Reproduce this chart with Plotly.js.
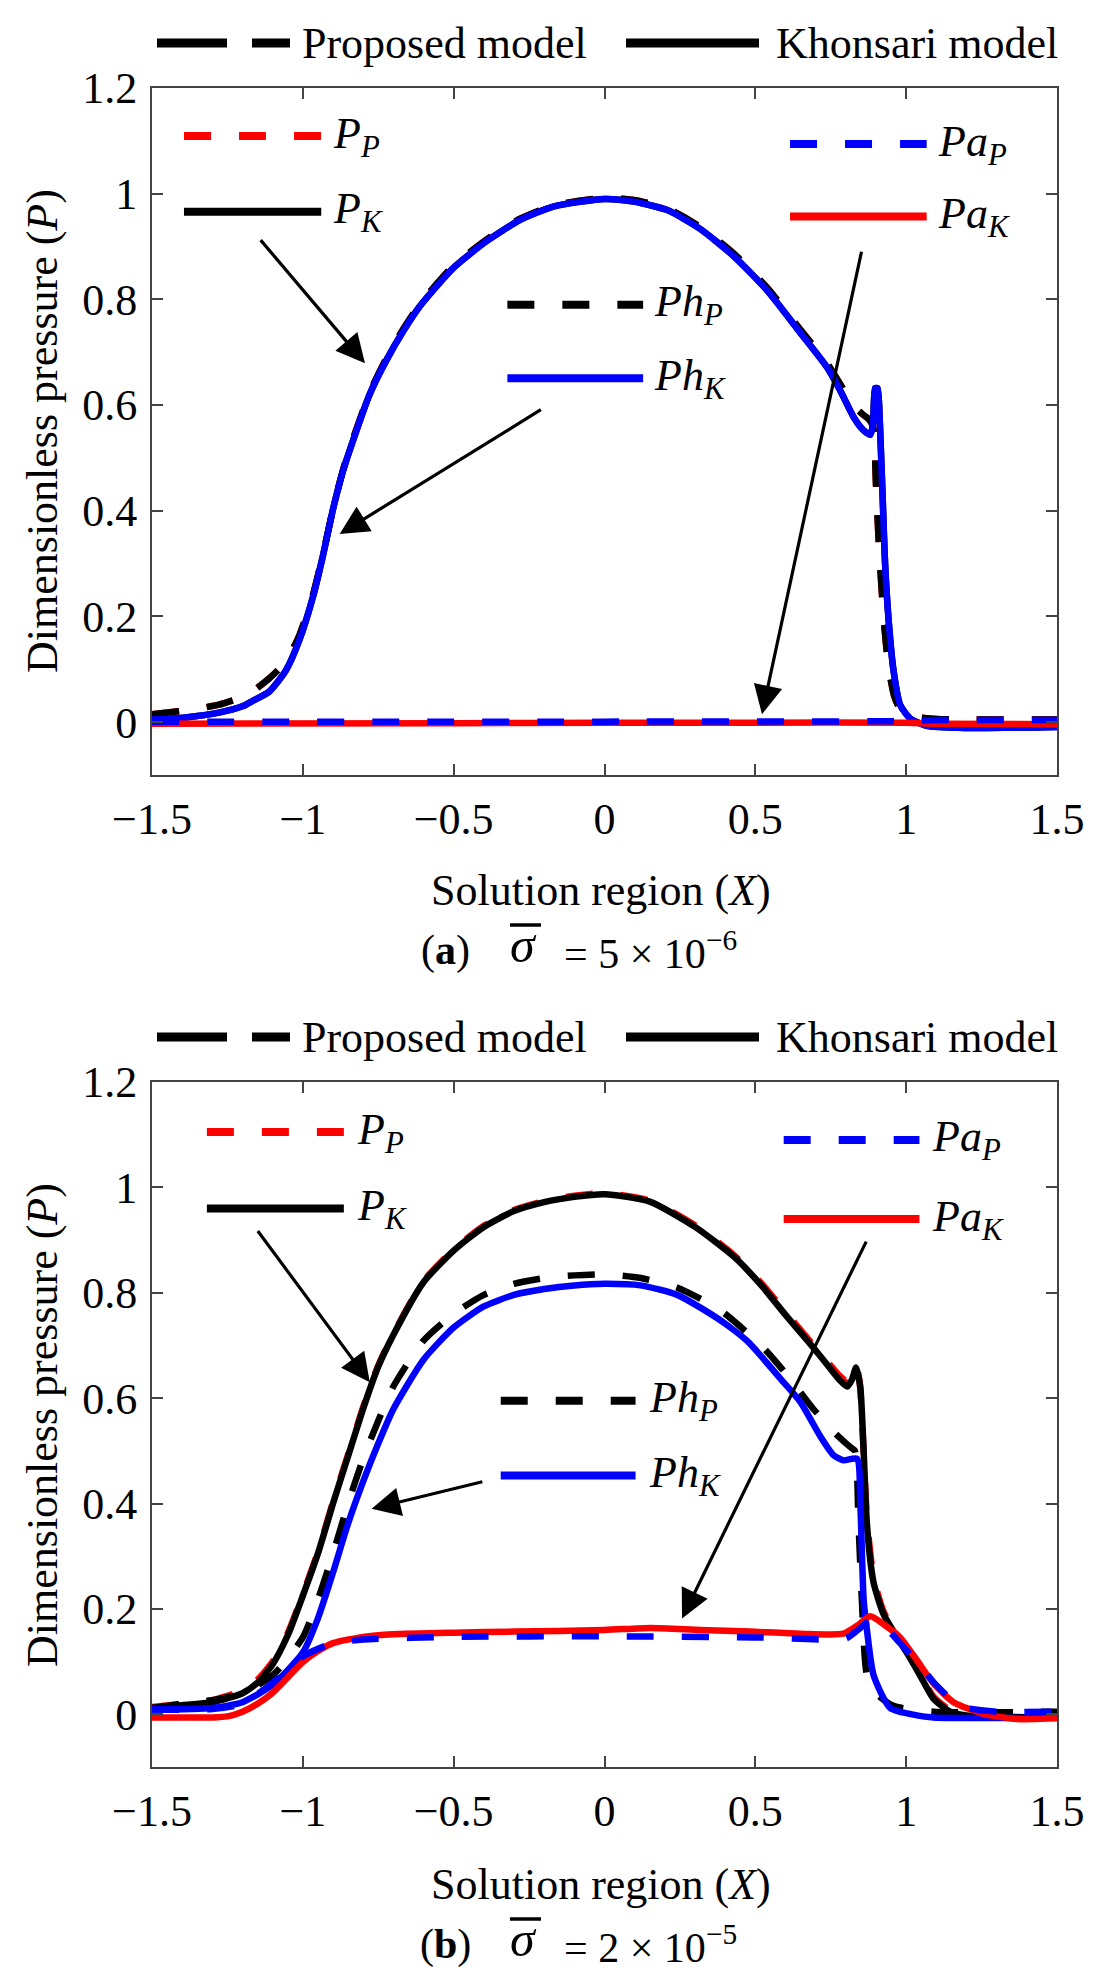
<!DOCTYPE html>
<html>
<head>
<meta charset="utf-8">
<script src="https://cdn.plot.ly/plotly-3.0.1.min.js"></script>
<style>body{margin:0;background:#fff}</style>
</head>
<body>
<div id="chart" style="width:1096px;height:1982px"></div>
<script>
// ---- (a) sigma = 5e-6 ----
const phKAx = [-1.5, -1.389, -1.278, -1.2, -1.167, -1.111, -1.056, -1.011, -0.967, -0.933, -0.9, -0.867, -0.833, -0.778, -0.722, -0.667, -0.611, -0.5, -0.389, -0.278, -0.167, 0, 0.097, 0.208, 0.318, 0.428, 0.539, 0.649, 0.737, 0.781, 0.826, 0.859, 0.881, 0.89, 0.897, 0.905, 0.912, 0.916, 0.923, 0.93, 0.942, 0.958, 0.98, 1.013, 1.068, 1.2, 1.5];
const phKAy = [0.005, 0.009, 0.018, 0.03, 0.04, 0.058, 0.098, 0.156, 0.236, 0.316, 0.403, 0.475, 0.534, 0.621, 0.686, 0.74, 0.788, 0.86, 0.911, 0.951, 0.976, 0.99, 0.985, 0.969, 0.933, 0.882, 0.817, 0.737, 0.672, 0.628, 0.577, 0.552, 0.544, 0.563, 0.632, 0.632, 0.577, 0.519, 0.41, 0.301, 0.192, 0.098, 0.033, 0.007, -0.007, -0.011, -0.009];
const phPAx = [-1.5, -1.389, -1.278, -1.2, -1.167, -1.111, -1.056, -1.011, -0.967, -0.933, -0.9, -0.867, -0.833, -0.778, -0.722, -0.667, -0.611, -0.5, -0.389, -0.278, -0.167, 0, 0.097, 0.208, 0.318, 0.428, 0.539, 0.649, 0.737, 0.781, 0.826, 0.859, 0.875, 0.89, 0.9, 0.91, 0.925, 0.94, 0.96, 0.98, 1.024, 1.1, 1.5];
const phPAy = [0.015, 0.022, 0.033, 0.048, 0.058, 0.083, 0.115, 0.165, 0.24, 0.318, 0.403, 0.477, 0.537, 0.624, 0.69, 0.744, 0.792, 0.864, 0.914, 0.953, 0.978, 0.992, 0.988, 0.972, 0.937, 0.887, 0.822, 0.743, 0.68, 0.64, 0.599, 0.581, 0.574, 0.56, 0.45, 0.33, 0.2, 0.11, 0.05, 0.025, 0.011, 0.006, 0.005];
// total pressure sits under the hydrodynamic curves in (a)
const pKAx = phKAx;
const pKAy = phKAy;
const pPAx = phPAx;
const pPAy = phPAy;
const paKAx = [-1.5, -0.5, 0, 0.5, 1.0, 1.1, 1.5];
const paKAy = [-0.003, -0.002, -0.001, -0.001, -0.001, -0.003, -0.004];
const paPAx = [-1.5, 0, 1.0, 1.1, 1.5];
const paPAy = [0.001, 0.001, 0.002, 0.004, 0.004];

// ---- (b) sigma = 2e-5 ----
const pKBx = [-1.5, -1.4, -1.3, -1.2, -1.15, -1.1, -1.05, -1.0, -0.95, -0.9, -0.85, -0.8, -0.75, -0.7, -0.6, -0.5, -0.4, -0.3, -0.2, -0.1, 0, 0.15, 0.3, 0.43, 0.52, 0.6, 0.67, 0.715, 0.76, 0.78, 0.804, 0.82, 0.834, 0.848, 0.859, 0.87, 0.892, 0.925, 0.97, 1.002, 1.046, 1.09, 1.146, 1.2, 1.5];
const pKBy = [0.012, 0.017, 0.023, 0.04, 0.06, 0.095, 0.15, 0.225, 0.305, 0.40, 0.49, 0.58, 0.66, 0.72, 0.82, 0.88, 0.925, 0.955, 0.972, 0.982, 0.987, 0.973, 0.925, 0.868, 0.814, 0.758, 0.711, 0.68, 0.648, 0.634, 0.622, 0.635, 0.658, 0.62, 0.5, 0.36, 0.25, 0.19, 0.146, 0.117, 0.074, 0.03, 0.005, -0.002, -0.006];
const pPBx = [-1.5, -1.4, -1.3, -1.2, -1.15, -1.1, -1.05, -1.0, -0.95, -0.9, -0.85, -0.8, -0.75, -0.7, -0.6, -0.5, -0.4, -0.3, -0.2, -0.1, 0, 0.15, 0.3, 0.43, 0.52, 0.6, 0.67, 0.715, 0.76, 0.78, 0.804, 0.82, 0.832, 0.846, 0.858, 0.87, 0.892, 0.925, 0.97, 1.002, 1.046, 1.09, 1.146, 1.2, 1.5];
const pPBy = [0.014, 0.02, 0.027, 0.045, 0.066, 0.1, 0.154, 0.228, 0.308, 0.403, 0.493, 0.583, 0.662, 0.722, 0.822, 0.882, 0.927, 0.957, 0.974, 0.984, 0.989, 0.975, 0.928, 0.871, 0.818, 0.763, 0.716, 0.685, 0.655, 0.642, 0.632, 0.645, 0.666, 0.63, 0.51, 0.37, 0.26, 0.195, 0.15, 0.12, 0.078, 0.034, 0.008, 0.002, 0.0];
const phPBx = [-1.5, -1.4, -1.3, -1.2, -1.1, -1.0, -0.95, -0.9, -0.85, -0.8, -0.75, -0.7, -0.6, -0.5, -0.4, -0.3, -0.2, -0.1, 0, 0.12, 0.24, 0.384, 0.528, 0.605, 0.693, 0.76, 0.815, 0.83, 0.842, 0.853, 0.87, 0.903, 0.958, 1.09, 1.5];
const phPBy = [0.012, 0.02, 0.027, 0.04, 0.074, 0.146, 0.218, 0.305, 0.40, 0.485, 0.557, 0.622, 0.709, 0.76, 0.796, 0.817, 0.828, 0.833, 0.835, 0.828, 0.81, 0.767, 0.695, 0.644, 0.579, 0.536, 0.507, 0.5, 0.362, 0.218, 0.074, 0.038, 0.016, 0.005, 0.005];
const phKBx = [-1.5, -1.3, -1.2, -1.1, -1.0, -0.95, -0.9, -0.85, -0.8, -0.75, -0.7, -0.6, -0.5, -0.4, -0.3, -0.2, -0.1, 0, 0.119, 0.241, 0.373, 0.472, 0.583, 0.649, 0.715, 0.759, 0.792, 0.837, 0.848, 0.859, 0.87, 0.892, 0.947, 1.035, 1.09, 1.5];
const phKBy = [0.009, 0.012, 0.023, 0.056, 0.117, 0.182, 0.269, 0.362, 0.442, 0.514, 0.579, 0.673, 0.734, 0.774, 0.796, 0.807, 0.814, 0.817, 0.814, 0.796, 0.752, 0.709, 0.637, 0.593, 0.528, 0.492, 0.482, 0.485, 0.399, 0.218, 0.16, 0.074, 0.012, -0.002, -0.006, -0.007];
const paKBx = [-1.5, -1.3, -1.25, -1.2, -1.15, -1.1, -1.05, -1.0, -0.95, -0.9, -0.8, -0.7, -0.5, -0.3, 0, 0.152, 0.318, 0.483, 0.649, 0.792, 0.837, 0.881, 0.925, 0.98, 1.035, 1.09, 1.157, 1.256, 1.366, 1.5];
const paKBy = [-0.006, -0.006, -0.004, 0.005, 0.02, 0.041, 0.07, 0.099, 0.12, 0.135, 0.147, 0.152, 0.155, 0.157, 0.16, 0.164, 0.16, 0.157, 0.153, 0.153, 0.168, 0.186, 0.171, 0.146, 0.103, 0.059, 0.023, 0.001, -0.009, -0.007];
const paPBx = [-1.5, -1.3, -1.2, -1.1, -1.0, -0.9, -0.8, -0.5, 0, 0.5, 0.8, 0.84, 0.88, 0.93, 0.98, 1.05, 1.1, 1.18, 1.3, 1.5];
const paPBy = [0.009, 0.01, 0.02, 0.06, 0.11, 0.135, 0.142, 0.147, 0.148, 0.146, 0.144, 0.16, 0.178, 0.165, 0.135, 0.09, 0.055, 0.015, 0.005, 0.005];

const xTicks = [-1.5, -1, -0.5, 0, 0.5, 1, 1.5];
const yTicks = [0, 0.2, 0.4, 0.6, 0.8, 1, 1.2];

const RED = '#ff0000', BLUE = '#0000ff', BLACK = '#000000';
const FONT = 'Liberation Serif';
const DASH = '27px,28px';
const LW = 6.5;

// page geometry (pixels) -> paper coordinates
const W = 1096, H = 1982, ML = 152, MR = 39, MT = 88, MB = 215;
const PW = W - ML - MR, PH = H - MT - MB;
const px = v => (v - ML) / PW;
const py = v => (H - MB - v) / PH;

function line(x, y, color, dash, xa, ya) {
    return {
        x: x, y: y, mode: 'lines', type: 'scatter', xaxis: xa, yaxis: ya,
        line: { color: color, width: LW, dash: dash || 'solid', shape: 'spline', smoothing: 0.6 },
        showlegend: false, hoverinfo: 'skip'
    };
}

const data = [
    line(pPAx, pPAy, RED, DASH, 'x', 'y'),
    line(pKAx, pKAy, BLACK, null, 'x', 'y'),
    line(phPAx, phPAy, BLACK, DASH, 'x', 'y'),
    line(phKAx, phKAy, BLUE, null, 'x', 'y'),
    line(paKAx, paKAy, RED, null, 'x', 'y'),
    line(paPAx, paPAy, BLUE, DASH, 'x', 'y'),
    line(pPBx, pPBy, RED, DASH, 'x2', 'y2'),
    line(pKBx, pKBy, BLACK, null, 'x2', 'y2'),
    line(phPBx, phPBy, BLACK, DASH, 'x2', 'y2'),
    line(phKBx, phKBy, BLUE, null, 'x2', 'y2'),
    line(paKBx, paKBy, RED, null, 'x2', 'y2'),
    line(paPBx, paPBy, BLUE, DASH, 'x2', 'y2')
];

function axisStyle(extra) {
    return Object.assign({
        range: [-1.5, 1.5], showline: true, mirror: 'ticks', linecolor: '#444', linewidth: 2,
        ticks: 'inside', ticklen: 11, tickwidth: 2, tickcolor: '#444',
        showgrid: false, zeroline: false, ticklabelstandoff: 4,
        tickfont: { family: FONT, size: 44, color: '#000' }
    }, extra);
}

const shapes = [];
const annotations = [];

function legendLine(x0, x1, y, color, dash, xr, yr, w) {
    shapes.push({ type: 'line', xref: xr, yref: yr, x0: x0, x1: x1, y0: y, y1: y,
        line: { color: color, width: w || 8, dash: dash || 'solid' } });
}
function label(x, y, text, xr, yr, size, anchor) {
    annotations.push({ x: x, y: y, xref: xr, yref: yr, text: text, showarrow: false,
        xanchor: anchor || 'left', yanchor: 'middle',
        font: { family: FONT, size: size || 44, color: '#000' } });
}
function arrow(x0, y0, x1, y1, xr, yr) {
    annotations.push({ x: x1, y: y1, ax: x0, ay: y0, xref: xr, yref: yr, axref: xr, ayref: yr,
        text: '', showarrow: true, arrowhead: 2, arrowsize: 1.8, arrowwidth: 3.2,
        arrowcolor: '#000', standoff: 0 });
}

// in-plot legends and arrows for both panels
const panels = [
    { xr: 'x', yr: 'y', top: 43, xlab: 890, cap: 950, tag: 'a', sig: '5 × 10<sup>−6</sup>',
      p: [-1.394, -0.939, 1.109, 0.966, -0.906], ph: [-0.322, 0.128, 0.79, 0.651, 0.158], pa: [0.615, 1.068, 1.094, 0.957, 1.1],
      arrows: [[-1.144, 0.915, -0.794, 0.679], [-0.206, 0.593, -0.878, 0.356], [0.853, 0.893, 0.522, 0.015]] },
    { xr: 'x2', yr: 'y2', top: 1037, xlab: 1884, cap: 1944, tag: 'b', sig: '2 × 10<sup>−5</sup>',
      p: [-1.318, -0.864, 1.105, 0.96, -0.828], ph: [-0.344, 0.103, 0.595, 0.453, 0.141], pa: [0.594, 1.044, 1.09, 0.94, 1.08],
      arrows: [[-1.153, 0.92, -0.778, 0.63], [-0.4, 0.442, -0.772, 0.39], [0.87, 0.9, 0.257, 0.182]] }
];

panels.forEach(pn => {
    legendLine(pn.p[0], pn.p[1], pn.p[2], RED, DASH, pn.xr, pn.yr);
    legendLine(pn.p[0], pn.p[1], pn.p[3], BLACK, null, pn.xr, pn.yr);
    label(pn.p[4], pn.p[2], '<i>P<sub>P</sub></i>', pn.xr, pn.yr);
    label(pn.p[4], pn.p[3], '<i>P<sub>K</sub></i>', pn.xr, pn.yr);
    legendLine(pn.ph[0], pn.ph[1], pn.ph[2], BLACK, DASH, pn.xr, pn.yr);
    legendLine(pn.ph[0], pn.ph[1], pn.ph[3], BLUE, null, pn.xr, pn.yr);
    label(pn.ph[4], pn.ph[2], '<i>Ph<sub>P</sub></i>', pn.xr, pn.yr);
    label(pn.ph[4], pn.ph[3], '<i>Ph<sub>K</sub></i>', pn.xr, pn.yr);
    legendLine(pn.pa[0], pn.pa[1], pn.pa[2], BLUE, DASH, pn.xr, pn.yr);
    legendLine(pn.pa[0], pn.pa[1], pn.pa[3], RED, null, pn.xr, pn.yr);
    label(pn.pa[4], pn.pa[2], '<i>Pa<sub>P</sub></i>', pn.xr, pn.yr);
    label(pn.pa[4], pn.pa[3], '<i>Pa<sub>K</sub></i>', pn.xr, pn.yr);
    pn.arrows.forEach(a => arrow(a[0], a[1], a[2], a[3], pn.xr, pn.yr));

    // model legend above the panel
    legendLine(px(157), px(227), py(pn.top), BLACK, null, 'paper', 'paper', 9);
    legendLine(px(252), px(290), py(pn.top), BLACK, null, 'paper', 'paper', 9);
    label(px(300), py(pn.top), 'Proposed model', 'paper', 'paper');
    legendLine(px(626), px(759), py(pn.top), BLACK, null, 'paper', 'paper', 9);
    label(px(774), py(pn.top), 'Khonsari model', 'paper', 'paper');

    // axis title and caption
    label(px(601), py(pn.xlab), 'Solution region (<i>X</i>)', 'paper', 'paper', 44, 'center');
    label(px(445), py(pn.cap), '(<b>' + pn.tag + '</b>)', 'paper', 'paper', 42, 'center');
    label(px(523), py(pn.cap) + 0.003, '<i>σ</i>', 'paper', 'paper', 50, 'center');
    shapes.push({ type: 'line', xref: 'paper', yref: 'paper', x0: px(510), x1: px(541),
        y0: py(pn.cap - 25), y1: py(pn.cap - 25), line: { color: '#000', width: 3.5 } });
    label(px(562), py(pn.cap), '= ' + pn.sig, 'paper', 'paper', 42, 'left');
});

// y axis titles
[431, 1425].forEach(c => {
    annotations.push({ x: px(42), y: py(c), xref: 'paper', yref: 'paper', text: 'Dimensionless pressure (<i>P</i>)',
        showarrow: false, textangle: -90, xanchor: 'center', yanchor: 'middle',
        font: { family: FONT, size: 44, color: '#000' } });
});

const layout = {
    width: W, height: H,
    margin: { l: ML, r: MR, t: MT, b: MB },
    paper_bgcolor: '#fff', plot_bgcolor: '#fff',
    showlegend: false,
    xaxis: axisStyle({ anchor: 'y', tickvals: xTicks }),
    yaxis: axisStyle({ anchor: 'x', domain: [py(775), 1], range: [-0.1, 1.2], tickvals: yTicks }),
    xaxis2: axisStyle({ anchor: 'y2', tickvals: xTicks }),
    yaxis2: axisStyle({ anchor: 'x2', domain: [0, py(1082)], range: [-0.1, 1.2], tickvals: yTicks }),
    shapes: shapes,
    annotations: annotations
};

Plotly.newPlot('chart', data, layout, { displayModeBar: false, staticPlot: true });
</script>
</body>
</html>
